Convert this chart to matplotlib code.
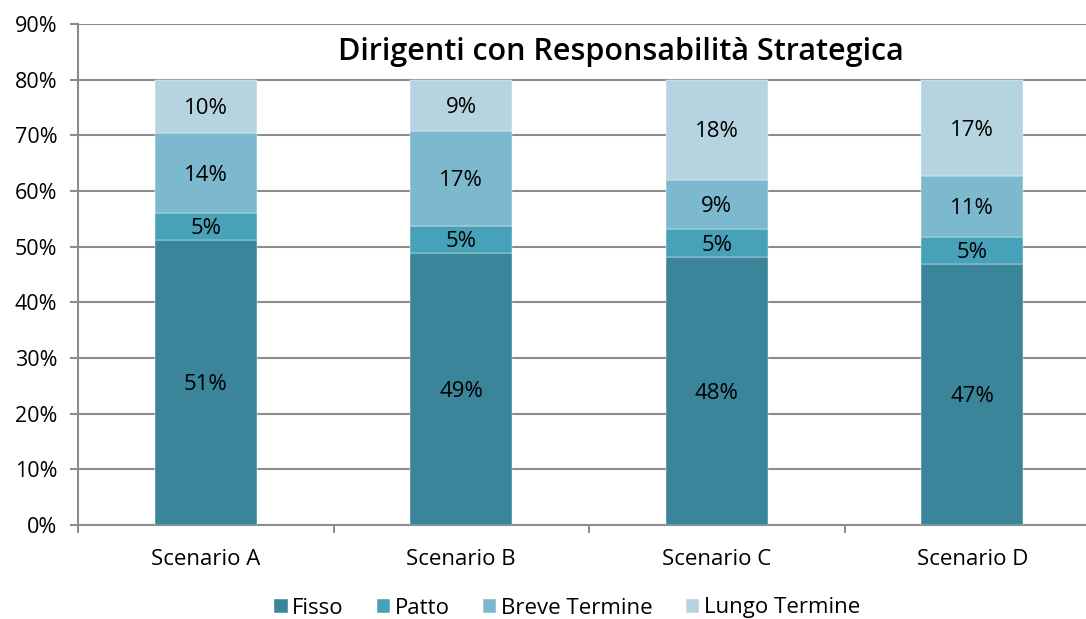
import matplotlib
matplotlib.use('Agg')
import matplotlib.pyplot as plt
import numpy as np

plt.rcParams['font.family'] = ['Open Sans', 'DejaVu Sans']

scenarios = ['Scenario A', 'Scenario B', 'Scenario C', 'Scenario D']
fisso = [51.2, 48.9, 48.1, 46.9]
patto = [4.9, 4.8, 5.1, 4.8]
breve = [14.3, 17.1, 8.8, 11.0]
lungo = [9.6, 9.2, 18.0, 17.3]
series_names = ['Fisso', 'Patto', 'Breve Termine', 'Lungo Termine']
colors = ['#3A8599', '#47A1B8', '#7DB9CE', '#B6D4DF']

fig = plt.figure(figsize=(10.86, 6.19), dpi=100)
ax = fig.add_axes([78 / 1086, 1 - 525 / 619, 1022 / 1086, 501 / 619])

x = np.arange(len(scenarios))
bottom = np.zeros(len(scenarios))
for name, vals, col in zip(series_names, [fisso, patto, breve, lungo], colors):
    bars = ax.bar(x, vals, 0.4, bottom=bottom, color=col, label=name,
                  edgecolor='white', linewidth=0.3, zorder=3)
    for b, v, y0 in zip(bars, vals, bottom):
        ax.text(b.get_x() + b.get_width() / 2, y0 + v / 2 - 0.4, '{:.0f}%'.format(v),
                ha='center', va='center', fontsize=16, color='black', zorder=4)
    bottom += np.array(vals)

ax.set_xlim(-0.5, 3.5)
ax.set_ylim(0, 90)
ax.set_yticks(range(0, 91, 10))
ax.set_yticklabels(['{}%'.format(t) for t in range(0, 91, 10)], fontsize=15.5)
ax.yaxis.grid(True, color='#8C8C8C', linewidth=1.5, zorder=0)
ax.set_axisbelow(True)

ax.set_xticks(x)
ax.set_xticklabels(scenarios, fontsize=16)
ax.tick_params(axis='x', length=0, pad=17)
ax.set_xticks(np.arange(-0.5, 4.0, 1.0), minor=True)
ax.tick_params(axis='x', which='minor', length=6, color='#8C8C8C', width=1.5)
ax.tick_params(axis='y', length=6, color='#8C8C8C', width=1.5, pad=9)

for s in ['top', 'right']:
    ax.spines[s].set_visible(False)
for s in ['left', 'bottom']:
    ax.spines[s].set_color('#8C8C8C')
    ax.spines[s].set_linewidth(1.5)

ax.text(621 / 1086, 1 - 52 / 619, 'Dirigenti con Responsabilità Strategica',
        transform=fig.transFigure, ha='center', va='center', fontsize=22,
        fontweight='semibold')

fig.legend(loc='center', bbox_to_anchor=(567 / 1086, 1 - 608 / 619), ncol=4,
           frameon=False, fontsize=16, handlelength=0.6, handleheight=0.6,
           handletextpad=0.2, columnspacing=1.5)

fig.savefig('out.png', dpi=100)
